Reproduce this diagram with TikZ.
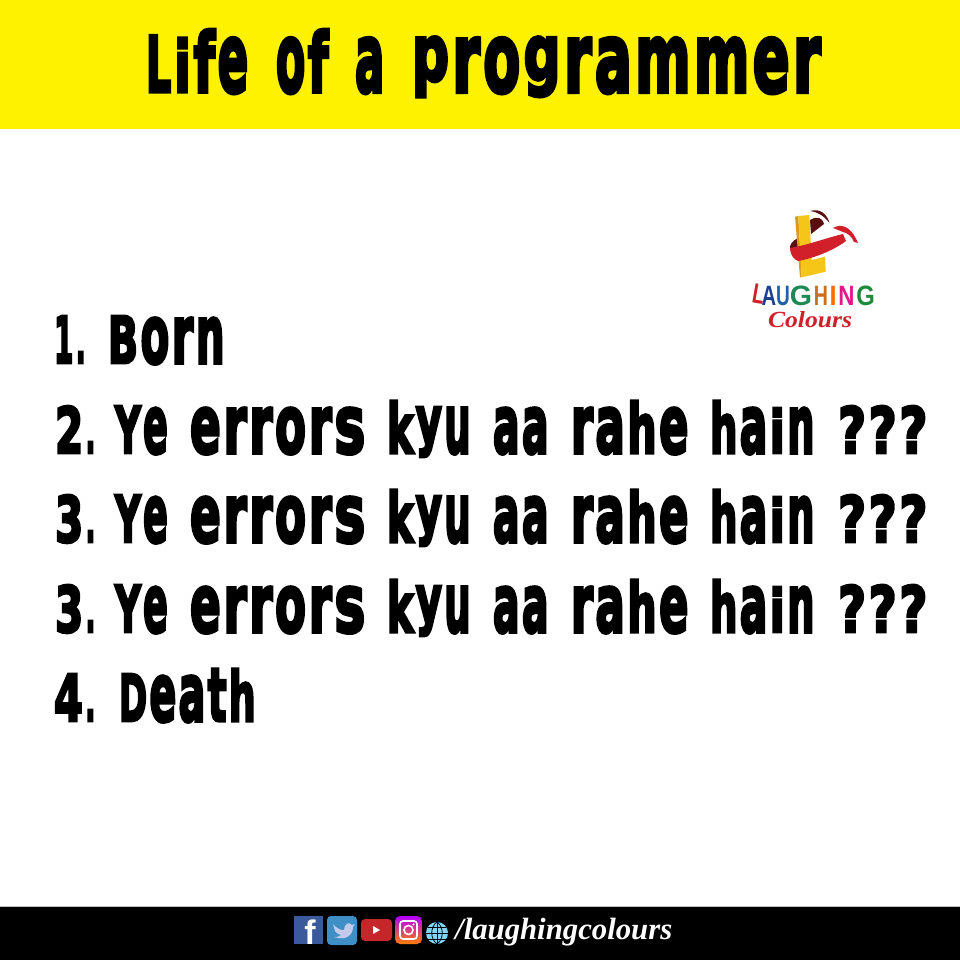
\documentclass[tikz,border=0pt]{standalone}
\usepackage{fontspec}
\usepackage{graphicx}
\newfontfamily\anton[FakeBold=4.5]{DejaVu Sans Bold}
\newfontfamily\footfont{Liberation Serif}
\newfontfamily\logofont{Liberation Sans}
\definecolor{banner}{HTML}{FFF200}
\definecolor{lyellow}{HTML}{F5C518}
\definecolor{lorange}{HTML}{DF9A1C}
\definecolor{lred}{HTML}{D2202A}
\definecolor{ldark}{HTML}{5A0E0E}
\definecolor{lnavy}{HTML}{1B3F94}
\definecolor{lblue}{HTML}{1D62A8}
\definecolor{lteal}{HTML}{1D8A55}
\definecolor{lbrown}{HTML}{C8701A}
\definecolor{lpink}{HTML}{E5188A}
\definecolor{lgreen}{HTML}{1F8A3A}
\tikzset{
 x=1pt,y=-1pt,
 txt/.style={anchor=base west,inner sep=0pt,outer sep=0pt,text=black},
 ltr/.style={anchor=base,inner sep=0pt,font=\logofont\bfseries\fontsize{28}{28}\selectfont},
}
\makeatletter
\newsavebox{\gbox}
\newcommand{\glyph}[1]{%
 \def\gw{40}%
 \in@{#1}{il}\ifin@\def\gw{22}\fi
 \in@{#1}{ft1}\ifin@\def\gw{28}\fi
 \in@{#1}{r}\ifin@\def\gw{30}\fi
 \in@{#1}{m}\ifin@\def\gw{60}\fi
 \in@{#1}{.}\ifin@\def\gw{14}\fi
 \in@{#1}{YBD}\ifin@\def\gw{42}\fi
 \in@{#1}{L}\ifin@\def\gw{33}\fi
 \in@{#1}{?}\ifin@\def\gw{38}\fi
 \def\gh{47}%
 \in@{#1}{bdfhiklt}\ifin@\def\gh{52}\fi
 \in@{#1}{aceimnorsuvwxz}\ifin@\def\gh{45}\fi
 \in@{#1}{.}\ifin@\def\gh{11}\fi
 \in@{#1}{gpqy}%
 \ifin@
   \sbox{\gbox}{\resizebox*{\gw pt}{50pt}{#1}}%
   \raisebox{\dimexpr\dp\gbox-4pt\relax}{\usebox{\gbox}}%
 \else
   \resizebox{\gw pt}{\gh pt}{#1}%
 \fi
 \kern3.5pt\relax}
\newcommand{\glyphs}[1]{\@tfor\nxt:=#1\do{\expandafter\glyph\expandafter{\nxt}}}
\makeatother
\newcommand{\wrd}[3]{\resizebox{#1pt}{#2\height}{\anton\fontsize{70}{70}\selectfont\glyphs{#3}}}
\newcommand{\errline}[3]{%
 \node[txt] (#1a) at (55,#2) {\wrd{43}{1}{#3.}};
 \node[txt] (#1b) at (115,#2) {\wrd{55}{1}{Ye}};
 \node[txt] (#1c) at (190,#2) {\wrd{178}{1}{errors}};
 \node[txt] (#1d) at (387,#2) {\wrd{86}{1}{kyu}};
 \node[txt] (#1e) at (493,#2) {\wrd{58}{1}{aa}};
 \node[txt] (#1f) at (571,#2) {\wrd{120}{1}{rahe}};
 \node[txt] (#1g) at (710,#2) {\wrd{107}{1}{hain}};
 \node[txt] (#1h) at (838,#2) {\wrd{92}{1}{???}};
}
\begin{document}
\begin{tikzpicture}
\useasboundingbox (0,0) rectangle (960,960);
\fill[white] (0,0) rectangle (960,960);
\fill[banner] (0,0) rectangle (960,129);
\fill[black] (0,907) rectangle (960,960);
\fill[black!25] (0,906) rectangle (960,907);
\node[txt] (t1) at (146,92) {\wrd{105}{1.2}{Life}};
\node[txt] (t2) at (276,92) {\wrd{55}{1.2}{of}};
\node[txt] (t3) at (355,92) {\wrd{32}{1.2}{a}};
\node[txt] (t4) at (412,92) {\wrd{412}{1.2}{programmer}};
\node[txt] (la1) at (54,363) {\wrd{34}{1}{1.}};
\node[txt] (la2) at (108,363) {\wrd{119}{1}{Born}};
\errline{lb}{453}{2}
\errline{lc}{542}{3}
\errline{ld}{632}{3}
\node[txt] (le1) at (54,721) {\wrd{44}{1}{4.}};
\node[txt] (le2) at (119,721) {\wrd{139}{1}{Death}};
% logo
\fill[ldark] (810,211) .. controls (820,208) and (827,214) .. (829.5,223) .. controls (824,216) and (818,212) .. (810,211) -- cycle;
\fill[ldark] (810,220) .. controls (817,216) and (822,217) .. (824,224) -- (811,234) -- cycle;
\fill[ldark] (798,238) .. controls (792,241) and (789,245) .. (790,250) -- (800,250) -- cycle;
\fill[lorange] (795,216.7) -- (798.3,216) -- (801.7,277.3) -- (800,277.3) -- cycle;
\fill[lyellow] (798.3,216) -- (809.3,215) -- (811.7,260) -- (825,256.7) -- (825.7,271.7) -- (801.7,277.3) -- cycle;
\fill[lred] (790,248) .. controls (808,245) and (826,238) .. (843,234) -- (846,241) .. controls (834,250) and (815,258) .. (798,261) .. controls (793,259) and (790,254) .. (790,248) -- cycle;
\fill[lred] (833,228) .. controls (840,224) and (850,224) .. (858,243) -- (854,242) .. controls (852,237) and (848,233) .. (843,232) -- cycle;
\node[ltr,text=lred,rotate=-10,xscale=.7] (ka) at (757,304) {L};
\node[ltr,text=lnavy,xscale=.72] (kb) at (769,305) {A};
\node[ltr,text=lblue,xscale=.68] (kc) at (783,305) {U};
\node[ltr,text=lteal,xscale=1.02] (kd) at (801,305) {G};
\node[ltr,text=lbrown,xscale=.7] (ke) at (821,305) {H};
\node[ltr,text=orange!85!red,xscale=.9] (kf) at (833,305) {I};
\node[ltr,text=lpink,xscale=.8] (kg) at (846.5,305) {N};
\node[ltr,text=lgreen,xscale=.85] (kh) at (865.5,305) {G};
\node[anchor=base,inner sep=0pt,text=lred] (kcol) at (810,327) {\resizebox{84pt}{16pt}{\footfont\itshape\bfseries\fontsize{24}{24}\selectfont Colours}};
% footer icons
\fill[fill={rgb,255:red,58;green,90;blue,155}] (294,916) rectangle (323,944);
\node[anchor=base,inner sep=0pt,text=white] (fb) at (310,944) {\logofont\bfseries\fontsize{34}{34}\selectfont f};
\fill[fill={rgb,255:red,61;green,143;blue,197},rounded corners=4pt] (327,916) rectangle (357,945);
\fill[cyan!10!white!85!blue] (333,924) .. controls (337,929) and (341,930) .. (344,930) .. controls (344,924) and (349,921) .. (352,925) -- (355,924) -- (353,927) .. controls (353,935) and (346,941) .. (334,937) .. controls (338,937) and (340,936) .. (341,935) .. controls (337,934) and (336,932) .. (335,931) -- cycle;
\fill[fill={rgb,255:red,196;green,38;blue,42},rounded corners=4pt] (361,919) rectangle (392,941);
\fill[white] (373,926) -- (380,930) -- (373,934) -- cycle;
\shade[bottom color=orange,top color=magenta!70!blue,rounded corners=5pt] (395,916) rectangle (422,944);
\draw[white,line width=1.6pt,rounded corners=3pt] (400,921) rectangle (417,939);
\draw[white,line width=1.6pt] (408.5,930) circle (4.5);
\fill[white] (413.5,924.5) circle (1.1);
\fill[cyan!50!white] (437,933) circle (11);
\draw[black,line width=.8pt] (437,922) -- (437,944) (426,933) -- (448,933) (428,927) -- (446,927) (428,939) -- (446,939);
\draw[black,line width=.8pt] (437,922) .. controls (430,927) and (430,939) .. (437,944) (437,922) .. controls (444,927) and (444,939) .. (437,944);
\node[anchor=base west,inner sep=0pt,text=white] (handle) at (455,939) {\resizebox{217pt}{!}{\footfont\itshape\bfseries\fontsize{29}{29}\selectfont /laughingcolours}};
\end{tikzpicture}
\end{document}
